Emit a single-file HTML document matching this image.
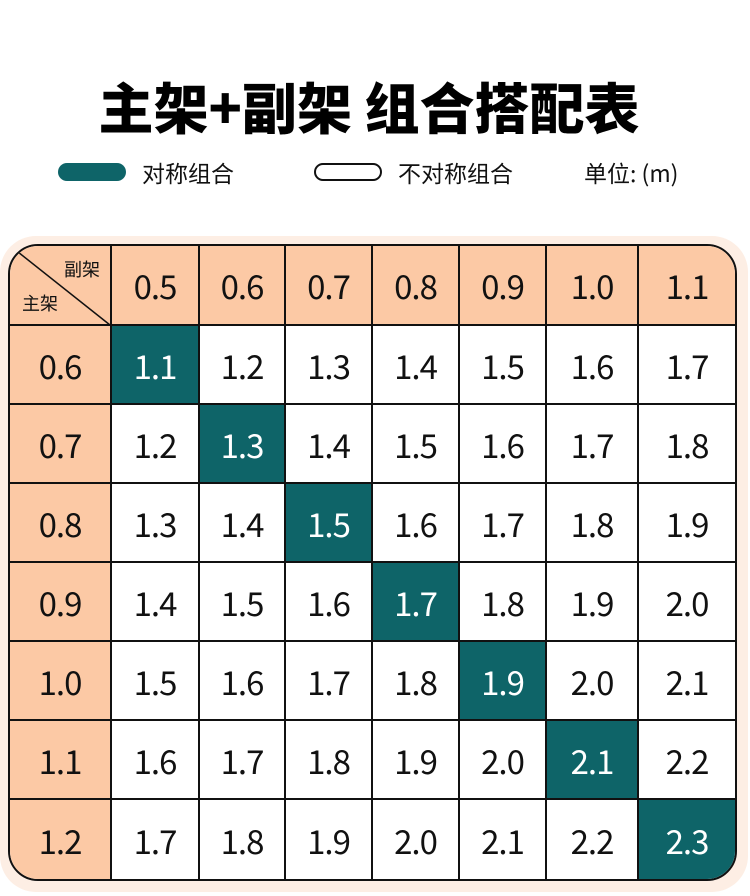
<!DOCTYPE html>
<html><head><meta charset="utf-8"><style>
body{margin:0;width:750px;height:896px;background:#fff;position:relative;overflow:hidden;font-family:"Liberation Sans","Noto Sans CJK SC",sans-serif;color:#111}
.title{position:absolute;left:0;width:738px;top:72px;text-align:center;font-family:"Noto Sans CJK SC",sans-serif;font-weight:900;font-size:55px;line-height:66px;color:#000}
.leg{position:absolute;top:157px;font-family:"Noto Sans CJK SC",sans-serif;font-size:23px;line-height:30px}
.pill{position:absolute;top:163px;width:68px;height:18px;border-radius:10px;box-sizing:border-box}
.glow{position:absolute;left:0;top:236px;width:748px;height:656px;border-radius:36px;background:#fdeee4}
table{position:absolute;left:8px;top:244px;width:729px;height:634px;border-collapse:separate;border-spacing:0;border:2.5px solid #111;border-radius:30px;overflow:hidden;background:#fff;table-layout:fixed}
td{border-right:2px solid #111;border-bottom:2px solid #111;text-align:center;font-family:"Noto Sans CJK SC",sans-serif;font-size:33px;letter-spacing:-1px;font-weight:400;padding:0}
tr{height:79px}
tr td:last-child{border-right:none}
tr:last-child td{border-bottom:none}
td.h{background:#fcc9a5}
td.t{background:#0e6468;color:#fff}
</style></head><body>
<div class="title">主架+副架 组合搭配表</div>
<div class="pill" style="left:58px;background:#0e6468"></div>
<div class="leg" style="left:142px">对称组合</div>
<div class="pill" style="left:314px;border:2px solid #111"></div>
<div class="leg" style="left:398px">不对称组合</div>
<div class="leg" style="left:584px">单位: (m)</div>
<div class="glow"></div>
<table>
<colgroup><col style="width:102px"><col style="width:88px"><col style="width:86px"><col style="width:87px"><col style="width:87px"><col style="width:87px"><col style="width:92px"><col></colgroup>
<tr style="height:80px"><td class="h" style="position:relative">
<svg width="102" height="80" style="position:absolute;left:0;top:0"><line x1="8" y1="6" x2="100" y2="79" stroke="#111" stroke-width="1.5"/></svg>
<span style="position:absolute;right:10px;top:10px;font-size:18px;letter-spacing:0">副架</span>
<span style="position:absolute;left:12px;bottom:8px;font-size:18px;letter-spacing:0">主架</span></td>
<td class="h">0.5</td><td class="h">0.6</td><td class="h">0.7</td><td class="h">0.8</td><td class="h">0.9</td><td class="h">1.0</td><td class="h">1.1</td></tr>
<tr><td class="h">0.6</td><td class="t">1.1</td><td>1.2</td><td>1.3</td><td>1.4</td><td>1.5</td><td>1.6</td><td>1.7</td></tr>
<tr><td class="h">0.7</td><td>1.2</td><td class="t">1.3</td><td>1.4</td><td>1.5</td><td>1.6</td><td>1.7</td><td>1.8</td></tr>
<tr><td class="h">0.8</td><td>1.3</td><td>1.4</td><td class="t">1.5</td><td>1.6</td><td>1.7</td><td>1.8</td><td>1.9</td></tr>
<tr><td class="h">0.9</td><td>1.4</td><td>1.5</td><td>1.6</td><td class="t">1.7</td><td>1.8</td><td>1.9</td><td>2.0</td></tr>
<tr><td class="h">1.0</td><td>1.5</td><td>1.6</td><td>1.7</td><td>1.8</td><td class="t">1.9</td><td>2.0</td><td>2.1</td></tr>
<tr><td class="h">1.1</td><td>1.6</td><td>1.7</td><td>1.8</td><td>1.9</td><td>2.0</td><td class="t">2.1</td><td>2.2</td></tr>
<tr><td class="h">1.2</td><td>1.7</td><td>1.8</td><td>1.9</td><td>2.0</td><td>2.1</td><td>2.2</td><td class="t">2.3</td></tr>
</table>
</body></html>
